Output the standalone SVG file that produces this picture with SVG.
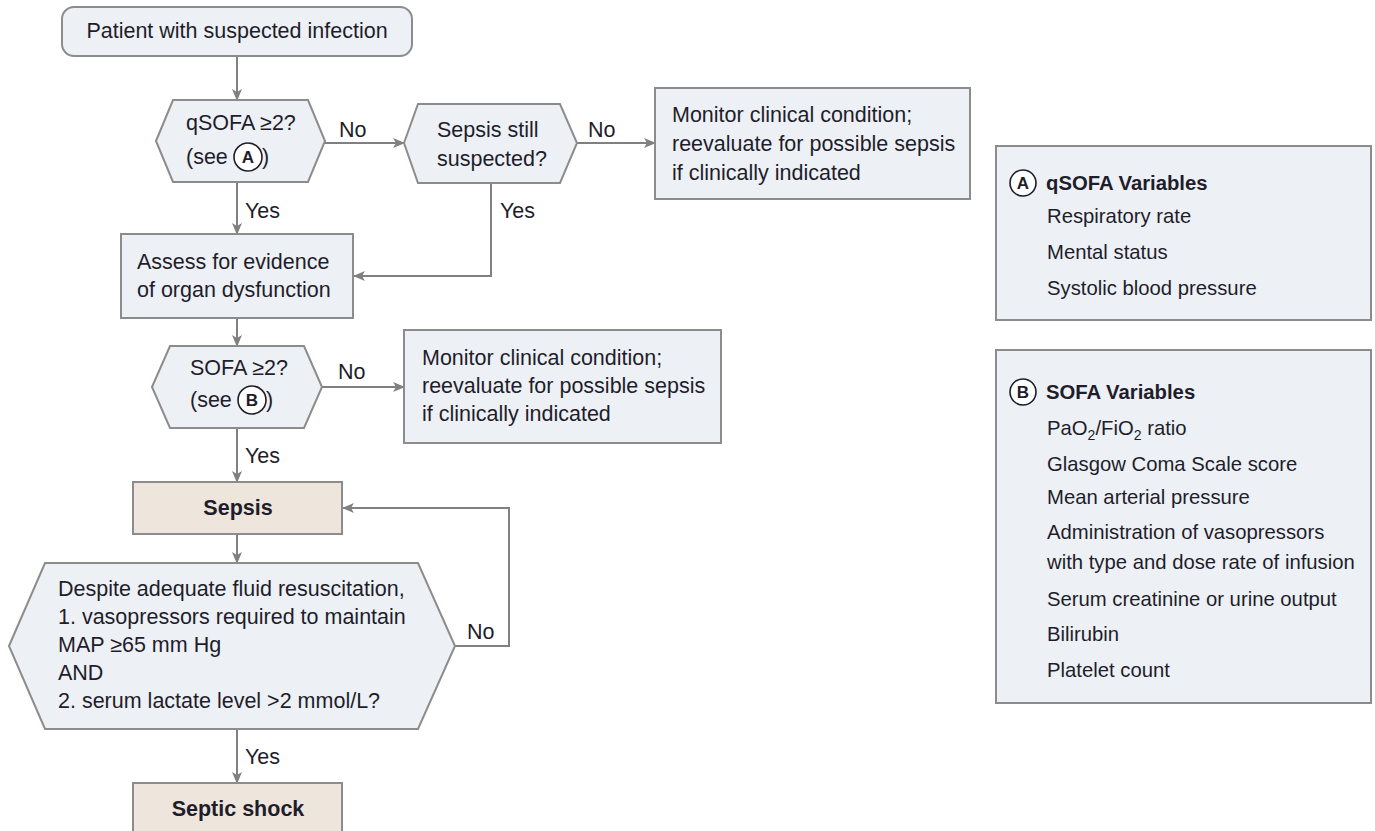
<svg xmlns="http://www.w3.org/2000/svg" width="1375" height="831" viewBox="0 0 1375 831">
<style>
  .n { fill: #edf1f5; stroke: #8c8c8c; stroke-width: 2; }
  .b { fill: #eee6dc; stroke: #8c8c8c; stroke-width: 2; }
  .p { fill: #edf1f5; stroke: #8c8c8c; stroke-width: 2; }
  .t { font-family: "Liberation Sans", Arial, sans-serif; font-size: 21.5px; fill: #1f1d2b; }
  .s { font-family: "Liberation Sans", Arial, sans-serif; font-size: 20.3px; fill: #1f1d2b; }
  .bold { font-weight: bold; }
  .c { fill: #ffffff; stroke: #1f1d2b; stroke-width: 1.6; }
  .cl { font-family: "Liberation Sans", Arial, sans-serif; font-size: 17px; font-weight: bold; fill: #1f1d2b; text-anchor: middle; }
  .e { fill: none; stroke: #808080; stroke-width: 2; marker-end: url(#ah); }
</style>
<defs>
  <marker id="ah" viewBox="0 0 12 10" refX="11" refY="5" markerWidth="12" markerHeight="10" markerUnits="userSpaceOnUse" orient="auto">
    <path d="M0,0 L12,5 L0,10 L3,5 z" fill="#808080"/>
  </marker>
</defs>
<rect width="1375" height="831" fill="#ffffff"/>

<g id="connectors">
  <path class="e" d="M237,56 L237,100"/>
  <path class="e" d="M325,143 L404,143"/>
  <path class="e" d="M577,143 L655,143"/>
  <path class="e" d="M237,182 L237,234"/>
  <path class="e" d="M491,183 L491,276 L354,276"/>
  <path class="e" d="M237,318 L237,346"/>
  <path class="e" d="M322,387 L404,387"/>
  <path class="e" d="M237,428 L237,482"/>
  <path class="e" d="M237,534 L237,563"/>
  <path class="e" d="M455,646 L509,646 L509,508 L343,508"/>
  <path class="e" d="M237,729 L237,783"/>
  <text class="t" x="339" y="137">No</text>
  <text class="t" x="588" y="137">No</text>
  <text class="t" x="245" y="218">Yes</text>
  <text class="t" x="500" y="218">Yes</text>
  <text class="t" x="338" y="379">No</text>
  <text class="t" x="245" y="463">Yes</text>
  <text class="t" x="467" y="639">No</text>
  <text class="t" x="245" y="764">Yes</text>
</g>

<g id="start">
  <rect class="n" x="62" y="7" width="350" height="49" rx="12"/>
  <text class="t" x="237" y="38" text-anchor="middle">Patient with suspected infection</text>
</g>

<g id="qsofa">
  <polygon class="n" points="156,141 173,100 308,100 325,141 308,182 173,182"/>
  <text class="t" x="186" y="130">qSOFA ≥2?</text>
  <text class="t" x="186" y="164">(see</text>
  <circle class="c" cx="248" cy="157" r="14"/>
  <text class="cl" x="248" y="163">A</text>
  <text class="t" x="262" y="164">)</text>
</g>

<g id="still">
  <polygon class="n" points="404,143 418,104 560,104 577,143 560,183 418,183"/>
  <text class="t" x="437" y="137">Sepsis still</text>
  <text class="t" x="437" y="166">suspected?</text>
</g>

<g id="monitor1">
  <rect class="n" x="655" y="88" width="315" height="111"/>
  <text class="t" x="672" y="122">Monitor clinical condition;</text>
  <text class="t" x="672" y="151">reevaluate for possible sepsis</text>
  <text class="t" x="672" y="180">if clinically indicated</text>
</g>

<g id="assess">
  <rect class="n" x="121" y="234" width="232" height="84"/>
  <text class="t" x="137" y="269">Assess for evidence</text>
  <text class="t" x="137" y="297">of organ dysfunction</text>
</g>

<g id="sofa">
  <polygon class="n" points="152,387 170,346 304,346 322,387 304,428 170,428"/>
  <text class="t" x="190" y="375">SOFA ≥2?</text>
  <text class="t" x="190" y="407">(see</text>
  <circle class="c" cx="252" cy="400" r="14"/>
  <text class="cl" x="252" y="406">B</text>
  <text class="t" x="266" y="407">)</text>
</g>

<g id="monitor2">
  <rect class="n" x="404" y="330" width="317" height="113"/>
  <text class="t" x="422" y="365">Monitor clinical condition;</text>
  <text class="t" x="422" y="393">reevaluate for possible sepsis</text>
  <text class="t" x="422" y="421">if clinically indicated</text>
</g>

<g id="sepsis">
  <rect class="b" x="133" y="482" width="209" height="52"/>
  <text class="t bold" x="238" y="515" text-anchor="middle">Sepsis</text>
</g>

<g id="shockq">
  <polygon class="n" points="9,646 45,563 418,563 455,646 418,729 45,729"/>
  <text class="t" x="58" y="596">Despite adequate fluid resuscitation,</text>
  <text class="t" x="58" y="624">1. vasopressors required to maintain</text>
  <text class="t" x="58" y="652">MAP ≥65 mm Hg</text>
  <text class="t" x="58" y="680">AND</text>
  <text class="t" x="58" y="708">2. serum lactate level &gt;2 mmol/L?</text>
</g>

<g id="shock">
  <rect class="b" x="133" y="783" width="209" height="60"/>
  <text class="t bold" x="238" y="816" text-anchor="middle">Septic shock</text>
</g>

<g id="panelA">
  <rect class="p" x="996" y="146" width="375" height="174"/>
  <circle class="c" cx="1023" cy="183" r="13"/>
  <text class="cl" x="1023" y="189">A</text>
  <text class="s bold" x="1046" y="190">qSOFA Variables</text>
  <text class="s" x="1047" y="223">Respiratory rate</text>
  <text class="s" x="1047" y="259">Mental status</text>
  <text class="s" x="1047" y="295">Systolic blood pressure</text>
</g>

<g id="panelB">
  <rect class="p" x="996" y="350" width="375" height="353"/>
  <circle class="c" cx="1023" cy="392" r="13"/>
  <text class="cl" x="1023" y="398">B</text>
  <text class="s bold" x="1046" y="399">SOFA Variables</text>
  <text class="s" x="1047" y="435">PaO<tspan font-size="14" dy="5">2</tspan><tspan dy="-5">/FiO</tspan><tspan font-size="14" dy="5">2</tspan><tspan dy="-5"> ratio</tspan></text>
  <text class="s" x="1047" y="471">Glasgow Coma Scale score</text>
  <text class="s" x="1047" y="504">Mean arterial pressure</text>
  <text class="s" x="1047" y="539">Administration of vasopressors</text>
  <text class="s" x="1047" y="569">with type and dose rate of infusion</text>
  <text class="s" x="1047" y="606">Serum creatinine or urine output</text>
  <text class="s" x="1047" y="641">Bilirubin</text>
  <text class="s" x="1047" y="677">Platelet count</text>
</g>
</svg>
